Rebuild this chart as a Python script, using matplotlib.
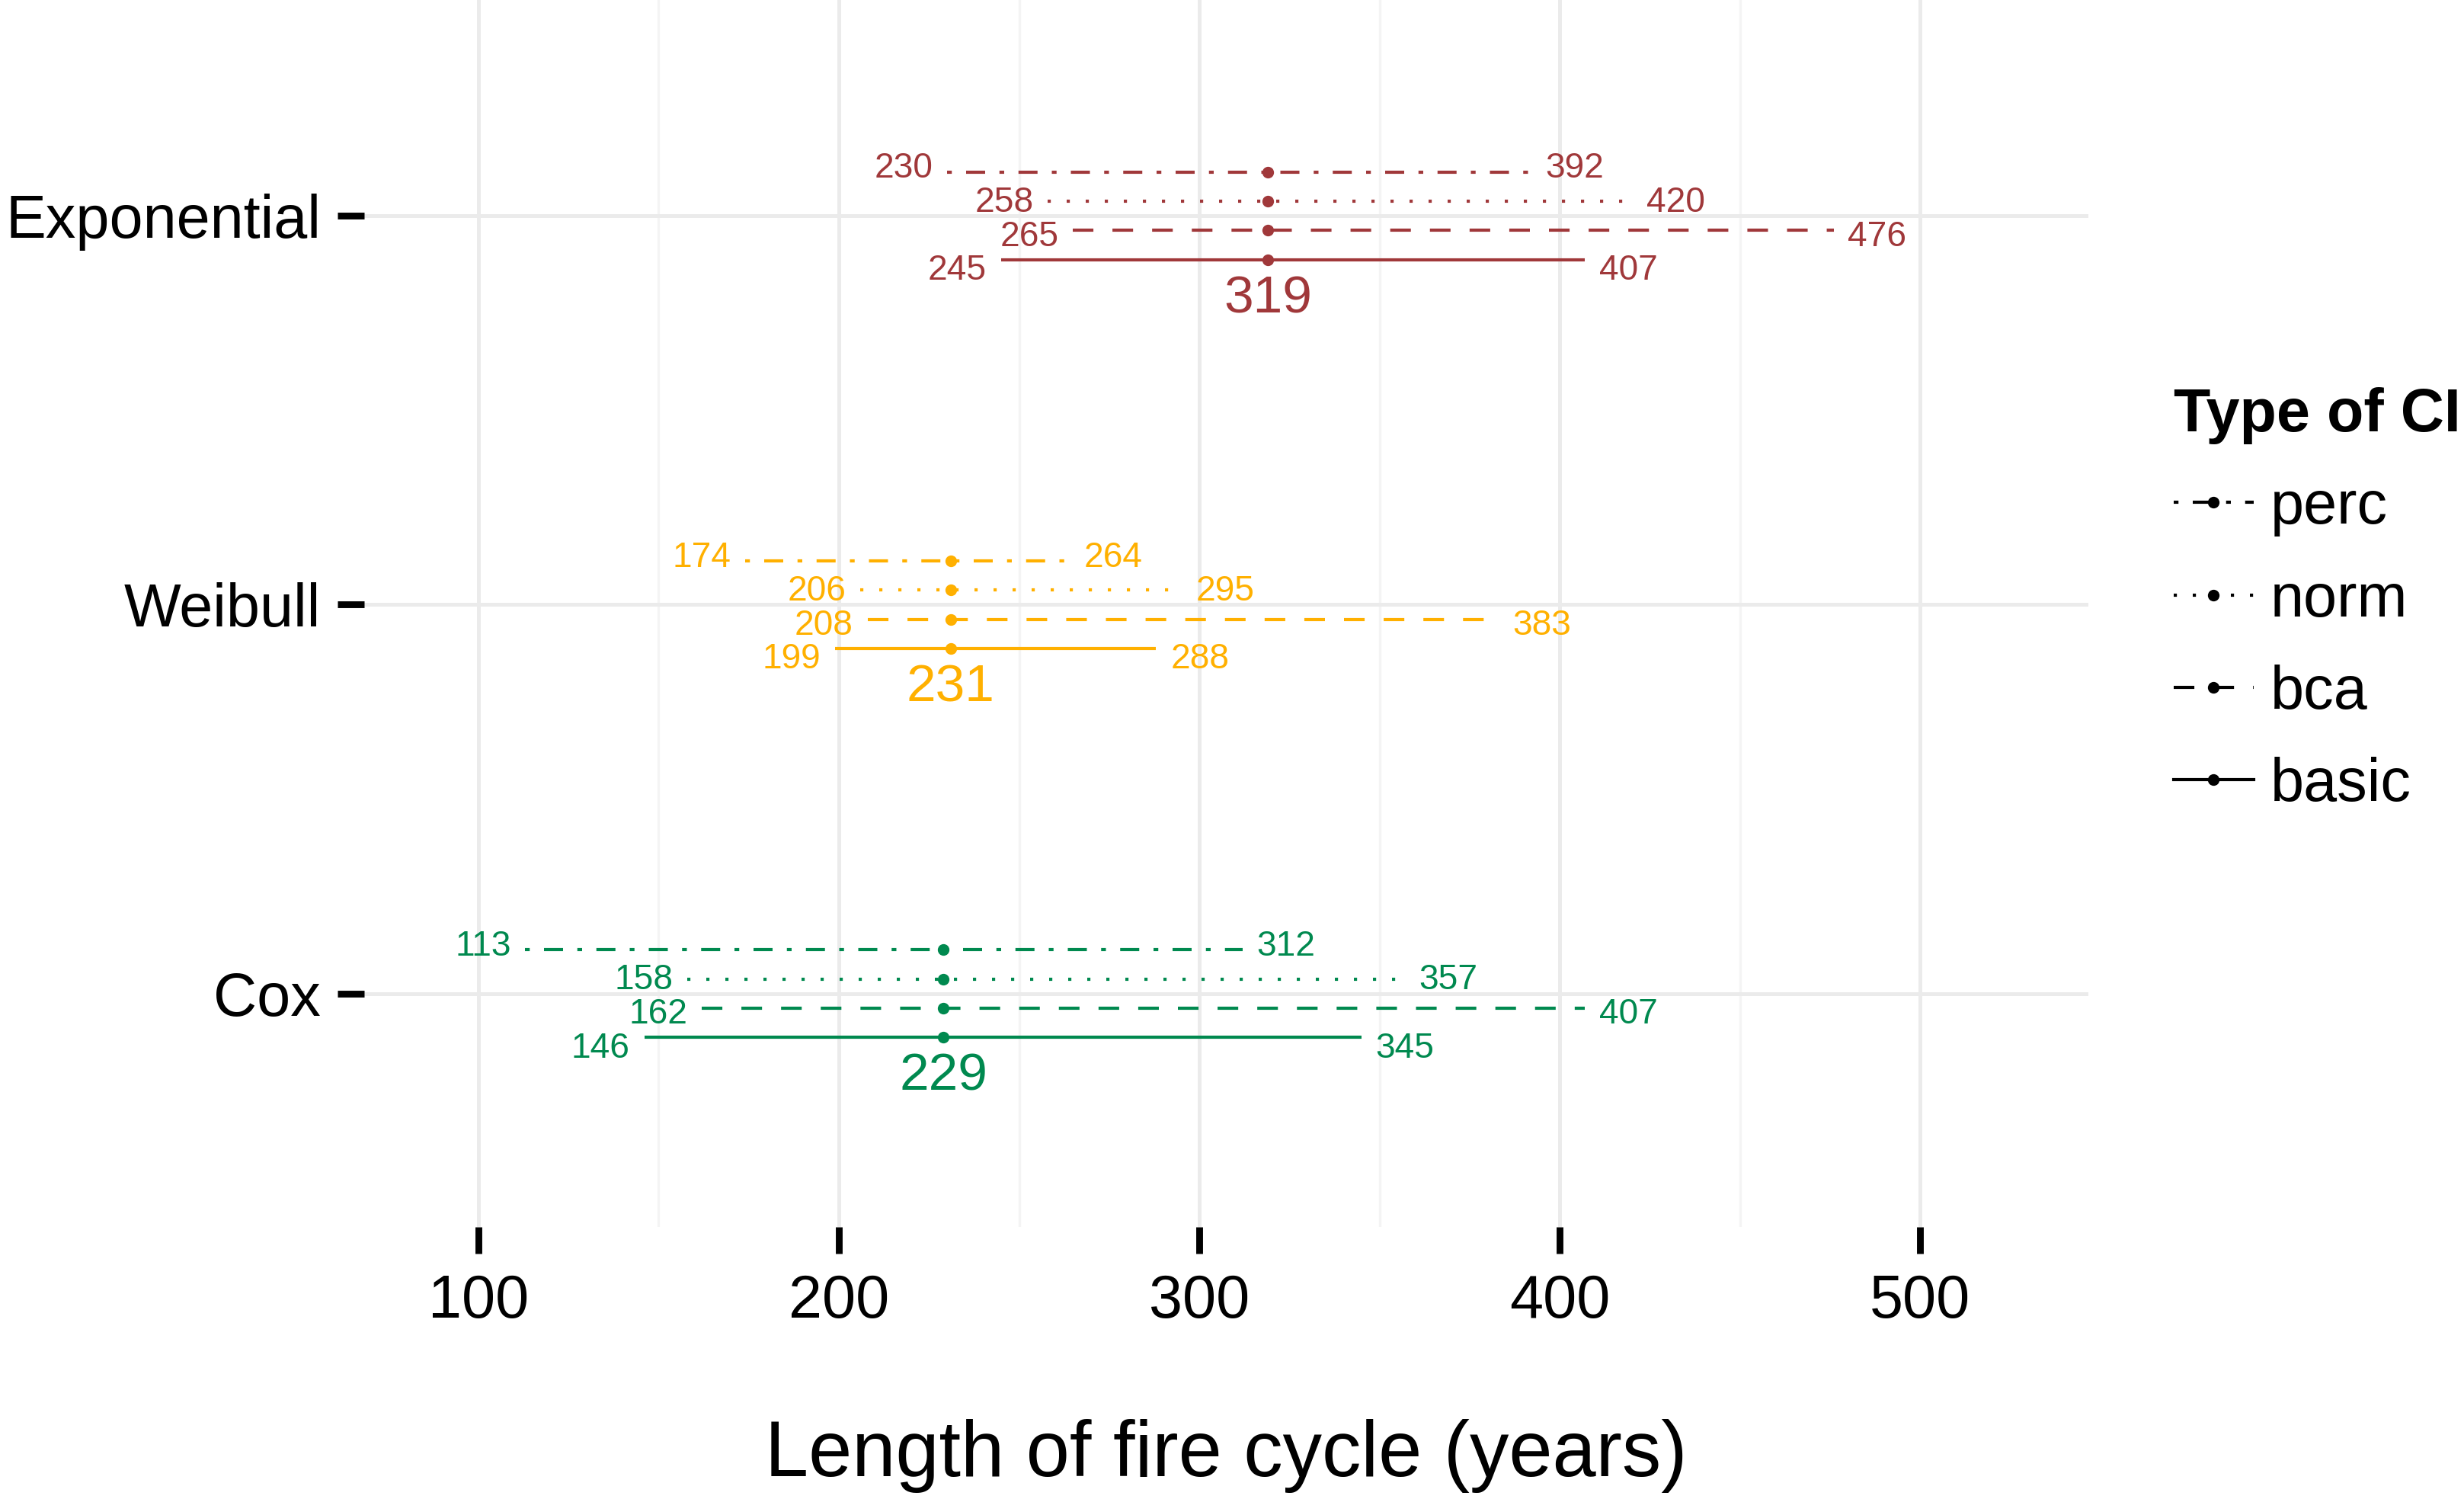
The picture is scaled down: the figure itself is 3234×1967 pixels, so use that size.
import matplotlib
matplotlib.use('Agg')
import matplotlib.pyplot as plt
from matplotlib.lines import Line2D

plt.rcParams['font.family'] = ['Liberation Sans', 'DejaVu Sans']

# ---- data ----
models = ['Cox', 'Weibull', 'Exponential']
model_colors = ['#00894F', '#FFB000', '#A0383A']
estimates = [229, 231, 319]
ci_types = ['perc', 'norm', 'bca', 'basic']
lower_perc = [113, 174, 230]
upper_perc = [312, 264, 392]
lower_norm = [158, 206, 258]
upper_norm = [357, 295, 420]
lower_bca = [162, 208, 265]
upper_bca = [407, 383, 476]
lower_basic = [146, 199, 245]
upper_basic = [345, 288, 407]
x_ticks = [100, 200, 300, 400, 500]
x_minor = [150, 250, 350, 450]
x_label = 'Length of fire cycle (years)'
legend_title = 'Type of CI'

lowers = {'perc': lower_perc, 'norm': lower_norm, 'bca': lower_bca, 'basic': lower_basic}
uppers = {'perc': upper_perc, 'norm': upper_norm, 'bca': upper_bca, 'basic': upper_basic}

# ---- styles ----
line_off = {'perc': 0.1125, 'norm': 0.0375, 'bca': -0.0375, 'basic': -0.1125}
label_off = {'perc': 0.131, 'norm': 0.044, 'bca': -0.044, 'basic': -0.131}
dash_style = {'perc': (1.5, 4.5, 6, 4.5), 'norm': (1, 5), 'bca': (6.5, 6), 'basic': None}
LW = 1.5
MS = 4.5

fig = plt.figure(figsize=(3234 / 200, 1967 / 200), dpi=200)
ax = fig.add_axes([478 / 3234, 0.1815, (2741 - 478) / 3234, 0.8302])

for i, model in enumerate(models):
    c = model_colors[i]
    ypos = i + 1
    for t in ci_types:
        lo = lowers[t][i]
        hi = uppers[t][i]
        y = ypos + line_off[t]
        kw = dict(color=c, lw=LW, solid_capstyle='butt', dash_capstyle='butt')
        if dash_style[t] is None:
            ax.plot([lo, hi], [y, y], linestyle='-', **kw)
        else:
            ax.plot([lo, hi], [y, y], dashes=dash_style[t], **kw)
        ax.plot([estimates[i]], [y], marker='o', ms=MS, color=c, linestyle='none')
        yl = ypos + label_off[t]
        ax.annotate(str(lo), xy=(lo, yl), xytext=(-6.8, 0), textcoords='offset points',
                    ha='right', va='center_baseline', fontsize=16.6, color=c)
        ax.annotate(str(hi), xy=(hi, yl), xytext=(6.8, 0), textcoords='offset points',
                    ha='left', va='center_baseline', fontsize=16.6, color=c)
    ax.text(estimates[i], ypos - 0.2, str(estimates[i]), ha='center', va='center_baseline',
            fontsize=25, color=c)

ax.set_xlim(68.3, 546.7)
ax.set_ylim(0.4, 3.6)
ax.set_xticks(x_ticks)
ax.set_xticks(x_minor, minor=True)
ax.set_yticks([1, 2, 3])
ax.set_yticklabels(models)
for s in ax.spines.values():
    s.set_visible(False)
ax.set_axisbelow(True)
ax.grid(which='major', color='#EBEBEB', lw=1.8)
ax.grid(which='minor', axis='x', color='#F4F4F4', lw=1.2)
ax.tick_params(axis='both', which='major', length=12.6, width=3.2, color='black',
               labelsize=28.5, labelcolor='black')
ax.tick_params(axis='x', which='major', pad=9.4)
ax.tick_params(axis='y', which='major', pad=7.9)
ax.tick_params(which='minor', length=0)

ax.set_xlabel(x_label, fontsize=37, va='baseline')
ax.xaxis.set_label_coords(0.5, -0.2003)

handles = []
for t in ci_types:
    if dash_style[t] is None:
        h = Line2D([], [], color='black', lw=LW, linestyle='-', marker='o', ms=MS)
    else:
        h = Line2D([], [], color='black', lw=LW, dashes=dash_style[t], marker='o', ms=MS)
    handles.append(h)
leg = fig.legend(handles, ci_types, title=legend_title, loc='upper left',
                 bbox_to_anchor=(2853 / 3234, 0.7418), bbox_transform=fig.transFigure,
                 frameon=False, fontsize=28.5, title_fontproperties={'weight': 'bold', 'size': 28.5},
                 handlelength=1.32, handletextpad=0.28, labelspacing=0.585,
                 borderpad=0, borderaxespad=0, alignment='left', numpoints=1)

fig.savefig('out.png', dpi=200, facecolor='white')
